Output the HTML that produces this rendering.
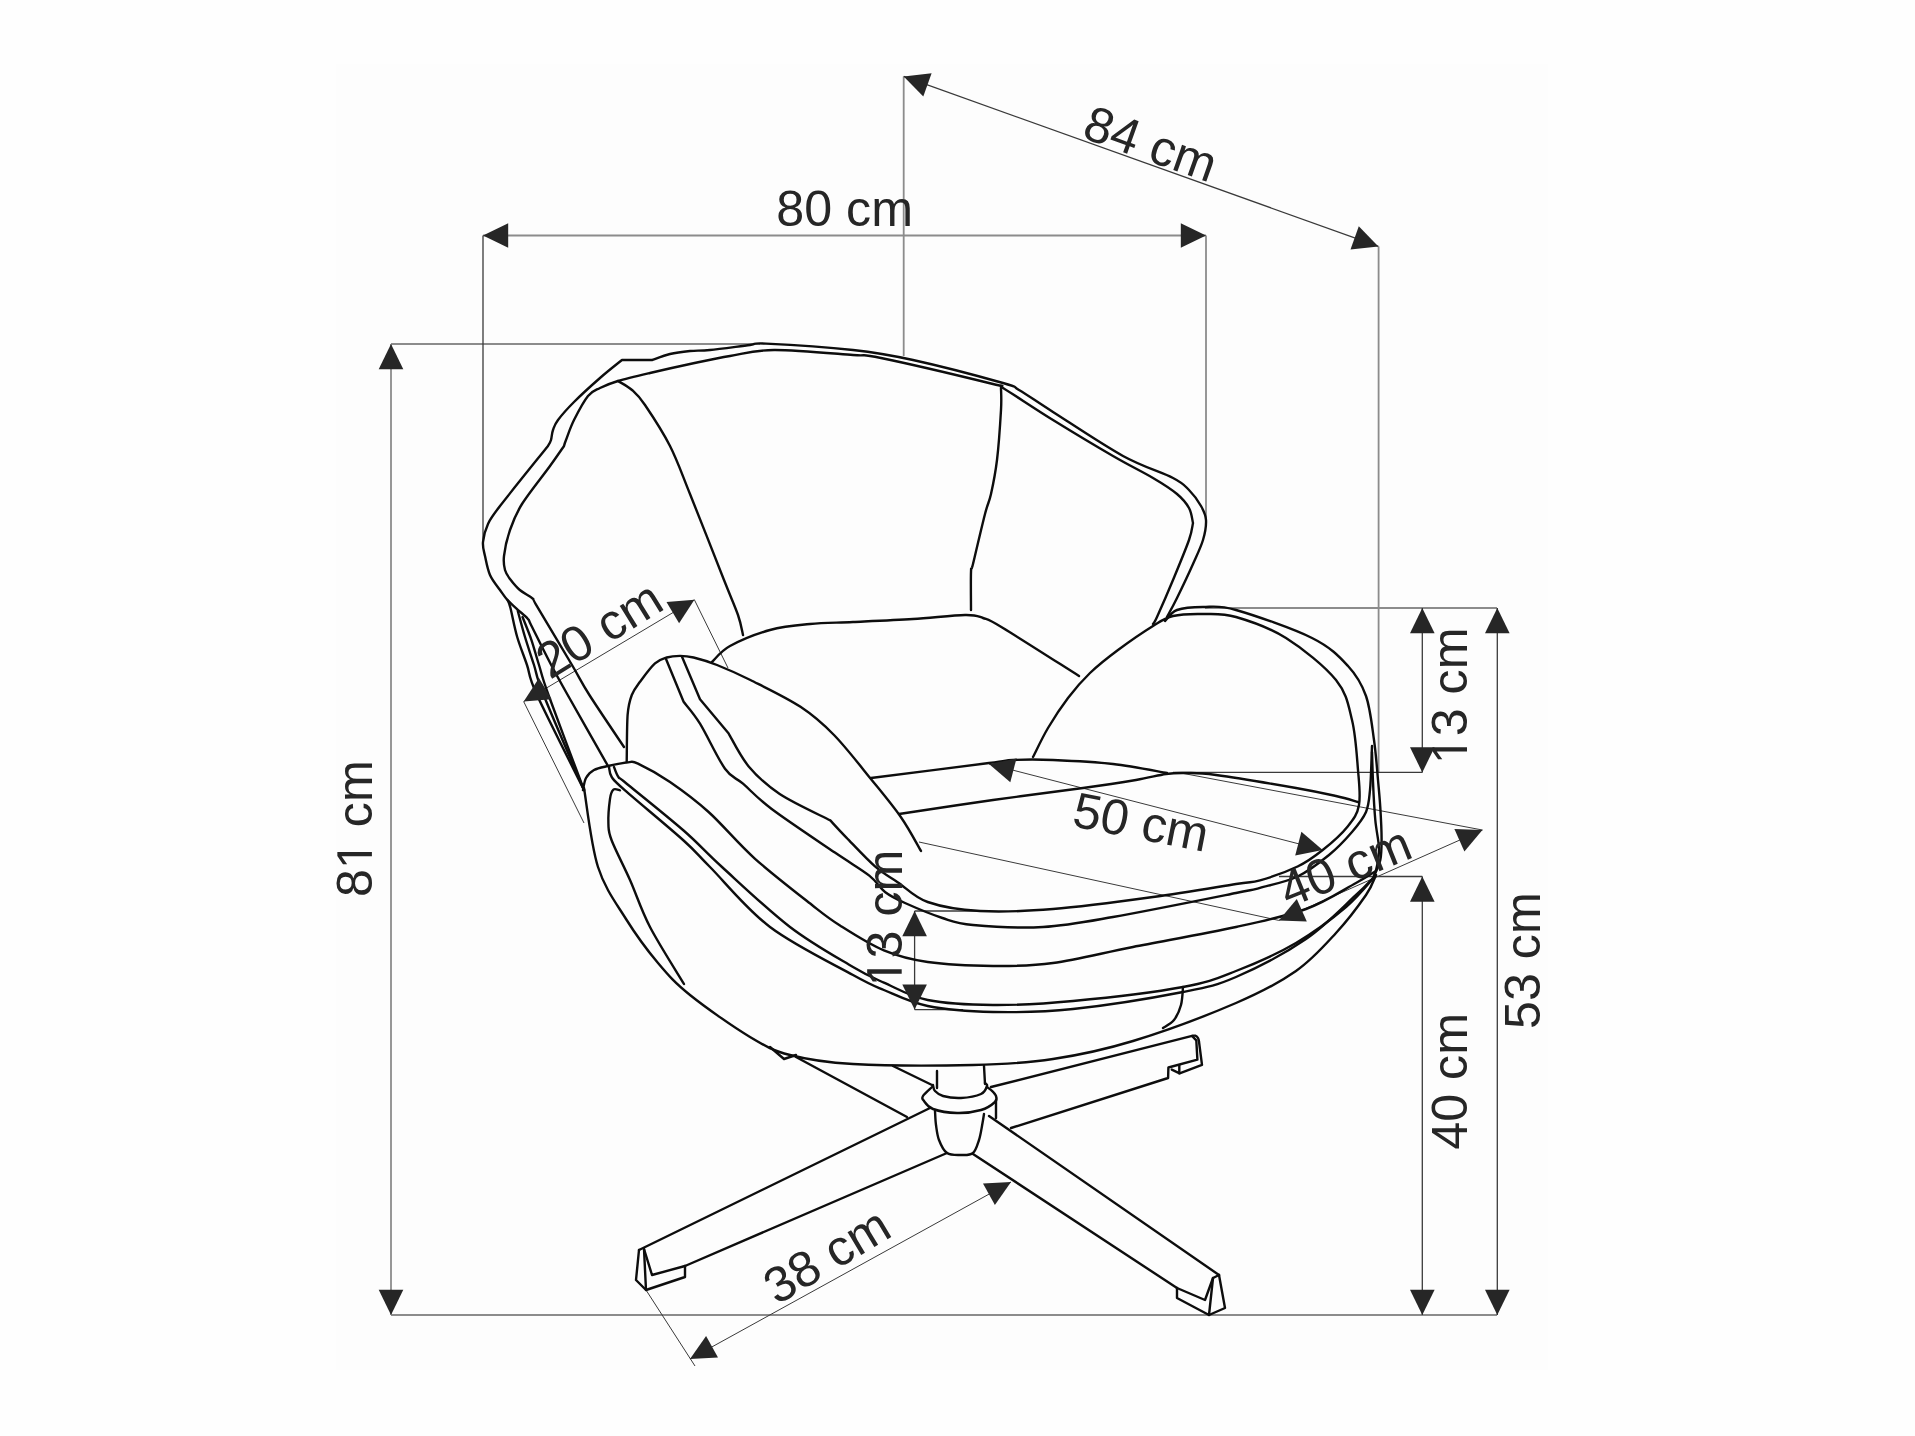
<!DOCTYPE html><html><head><meta charset="utf-8"><style>html,body{margin:0;padding:0;background:#fefefe;}svg{display:block;}</style></head><body>
<svg width="1915" height="1436" viewBox="0 0 1915 1436">
<rect x="0" y="0" width="1915" height="1436" fill="#fefefe"/>
<rect x="336" y="64" width="1212" height="1306" fill="#fdfdfd"/>
<g fill="none" stroke-linecap="butt">
<path d="M391.0 344.0 L760.0 344.0" stroke="#8c8c8c" stroke-width="1.8"/>
<path d="M391.0 344.0 L391.0 1315.0" stroke="#8c8c8c" stroke-width="1.8"/>
<path d="M391.0 1315.0 L1497.0 1315.0" stroke="#8c8c8c" stroke-width="1.8"/>
<path d="M483.0 235.5 L1206.0 235.5" stroke="#8c8c8c" stroke-width="1.8"/>
<path d="M903.7 76.4 L903.7 356.0" stroke="#8c8c8c" stroke-width="1.8"/>
<path d="M1206.0 235.5 L1206.0 518.0" stroke="#8c8c8c" stroke-width="1.8"/>
<path d="M1205.0 608.0 L1497.0 608.0" stroke="#8c8c8c" stroke-width="1.8"/>
<path d="M1378.6 246.4 L1378.6 772.0" stroke="#8c8c8c" stroke-width="1.8"/>
<path d="M483.0 235.5 L483.0 540.0" stroke="#3a3a3a" stroke-width="1.3"/>
<path d="M903.7 76.4 L1378.4 246.4" stroke="#3a3a3a" stroke-width="1.3"/>
<path d="M1422.3 608.0 L1422.3 772.4" stroke="#3a3a3a" stroke-width="1.3"/>
<path d="M1422.3 876.5 L1422.3 1315.0" stroke="#3a3a3a" stroke-width="1.3"/>
<path d="M1497.3 608.0 L1497.3 1315.0" stroke="#3a3a3a" stroke-width="1.3"/>
<path d="M1173.0 772.4 L1422.3 772.4" stroke="#3a3a3a" stroke-width="1.3"/>
<path d="M1279.0 876.5 L1422.3 876.5" stroke="#3a3a3a" stroke-width="1.3"/>
<path d="M914.6 911.0 L914.6 1009.6" stroke="#3a3a3a" stroke-width="1.3"/>
<path d="M914.6 911.0 L980.0 911.0" stroke="#3a3a3a" stroke-width="1.3"/>
<path d="M914.6 1009.6 L963.0 1009.6" stroke="#3a3a3a" stroke-width="1.3"/>
<path d="M989.0 764.0 L1322.7 850.0" stroke="#3a3a3a" stroke-width="1.0"/>
<path d="M1181.0 773.0 L1482.4 830.0" stroke="#3a3a3a" stroke-width="1.0"/>
<path d="M919.0 842.0 L1278.8 920.4" stroke="#3a3a3a" stroke-width="1.0"/>
<path d="M1278.8 920.4 L1482.4 830.0" stroke="#3a3a3a" stroke-width="1.0"/>
<path d="M523.7 701.6 L694.4 599.8" stroke="#3a3a3a" stroke-width="1.0"/>
<path d="M694.4 599.8 L728.0 668.0" stroke="#3a3a3a" stroke-width="1.0"/>
<path d="M523.7 701.6 L584.0 823.0" stroke="#3a3a3a" stroke-width="1.0"/>
<path d="M690.0 1359.0 L1011.0 1182.0" stroke="#3a3a3a" stroke-width="1.0"/>
<path d="M646.0 1290.0 L695.0 1366.0" stroke="#3a3a3a" stroke-width="1.0"/>
</g>
<g fill="none" stroke="#0d0d0d" stroke-width="2.4" stroke-linejoin="round" stroke-linecap="round">
<path d="M608.0 766.0 C601.3 754.2 577.2 711.8 567.7 695.0 C558.2 678.2 557.3 676.6 551.2 665.0 C545.1 653.4 535.2 633.2 531.3 625.5 C527.4 617.8 530.0 621.3 527.7 618.7 C525.5 616.1 521.1 612.8 517.8 609.8 C514.5 606.8 510.8 603.7 507.8 600.4 C504.8 597.1 503.0 594.2 500.0 590.0 C497.0 585.8 492.5 580.7 490.0 575.0 C487.5 569.3 486.2 561.5 485.0 556.0 C483.8 550.5 482.5 547.3 483.0 542.0 C483.5 536.7 485.2 530.0 488.0 524.0 C490.8 518.0 490.0 519.0 500.0 506.0 C510.0 493.0 540.0 456.0 548.0 446.0 C548.5 445.0 550.2 442.7 551.0 440.0 C551.8 437.3 551.8 433.3 553.0 430.0 C554.2 426.7 554.5 424.7 558.0 420.0 C561.5 415.3 567.0 409.0 574.0 402.0 C581.0 395.0 592.0 385.0 600.0 378.0 C608.0 371.0 618.3 363.0 622.0 360.0 L652.0 360.0 C655.0 359.0 663.7 355.5 670.0 354.0 C676.3 352.5 683.3 351.7 690.0 351.0 C696.7 350.3 700.0 351.0 710.0 350.0 C720.0 349.0 740.7 346.1 750.0 345.0 C759.3 343.9 748.8 342.8 766.0 343.6 C783.2 344.4 828.5 347.3 853.0 350.0 C877.5 352.7 888.0 354.5 913.0 360.0 C938.0 365.5 985.3 378.0 1003.0 383.0 C1020.7 388.0 1010.7 385.2 1019.0 390.0 C1027.3 394.8 1035.7 401.0 1053.0 412.0 C1070.3 423.0 1103.0 445.0 1123.0 456.0 C1143.0 467.0 1162.0 472.3 1173.0 478.0 C1184.0 483.7 1184.3 485.3 1189.0 490.0 C1193.7 494.7 1198.2 501.0 1201.0 506.0 C1203.8 511.0 1205.7 514.3 1206.0 520.0 C1206.3 525.7 1205.2 532.7 1203.0 540.0 C1200.8 547.3 1197.3 554.3 1193.0 564.0 C1188.7 573.7 1181.3 589.2 1177.0 598.0 C1172.7 606.8 1168.7 613.8 1167.0 617.0"/>
<path d="M624.0 747.0 C618.2 738.3 598.1 708.7 589.4 695.0 C580.7 681.3 580.8 679.9 572.0 665.0 C563.2 650.1 543.2 616.8 536.6 605.7 C530.0 594.6 535.2 601.0 532.4 598.4 C529.6 595.8 523.5 593.2 519.8 590.0 C516.1 586.8 512.5 582.3 510.0 579.0 C507.5 575.7 506.0 573.8 505.0 570.0 C504.0 566.2 503.2 562.7 504.0 556.0 C504.8 549.3 507.0 538.7 510.0 530.0 C513.0 521.3 515.3 514.7 522.0 504.0 C528.7 493.3 543.0 475.7 550.0 466.0 C557.0 456.3 561.7 449.3 564.0 446.0 C564.3 445.0 564.3 444.3 566.0 440.0 C567.7 435.7 570.3 427.3 574.0 420.0 C577.7 412.7 583.7 401.3 588.0 396.0 C592.3 390.7 595.0 390.5 600.0 388.0 C605.0 385.5 609.7 383.5 618.0 381.0 C626.3 378.5 638.0 375.8 650.0 373.0 C662.0 370.2 676.7 366.8 690.0 364.0 C703.3 361.2 716.0 358.3 730.0 356.0 C744.0 353.7 753.5 350.2 774.0 350.0 C794.5 349.8 835.2 353.7 853.0 355.0 C870.8 356.3 857.7 353.2 881.0 358.0 C904.3 362.8 972.7 379.0 993.0 384.0 C1013.3 389.0 993.0 382.0 1003.0 388.0 C1013.0 394.0 1034.7 408.7 1053.0 420.0 C1071.3 431.3 1096.3 446.3 1113.0 456.0 C1129.7 465.7 1142.3 471.7 1153.0 478.0 C1163.7 484.3 1171.0 489.0 1177.0 494.0 C1183.0 499.0 1186.3 503.2 1189.0 508.0 C1191.7 512.8 1192.3 520.5 1193.0 523.0 C1192.3 525.8 1192.3 530.5 1189.0 540.0 C1185.7 549.5 1178.3 567.2 1173.0 580.0 C1167.7 592.8 1160.3 609.7 1157.0 617.0 C1153.7 624.3 1153.7 622.8 1153.0 624.0"/>
<path d="M507.8 600.4 C508.2 601.6 508.8 601.7 510.4 607.8 C512.0 613.9 514.4 627.5 517.2 637.0 C520.0 646.5 523.7 655.3 527.0 665.0 C530.3 674.7 527.5 674.2 537.0 695.0 C546.5 715.8 576.2 774.2 584.0 790.0"/>
<path d="M517.8 611.0 C519.0 615.3 522.3 628.0 525.0 637.0 C527.7 646.0 530.9 655.3 534.0 665.0 C537.1 674.7 535.3 674.2 543.6 695.0 C551.9 715.8 577.3 774.2 584.0 790.0"/>
<path d="M522.5 617.0 C524.0 620.8 528.5 631.6 531.3 639.6 C534.0 647.6 536.1 655.8 539.0 665.0 C541.9 674.2 541.0 674.2 548.5 695.0 C556.0 715.8 578.1 774.2 584.0 790.0"/>
<path d="M618.0 381.0 C620.3 382.5 627.5 386.0 632.0 390.0 C636.5 394.0 638.7 395.7 645.0 405.0 C651.3 414.3 662.5 431.2 670.0 446.0 C677.5 460.8 681.0 471.7 690.0 494.0 C699.0 516.3 716.0 559.8 724.0 580.0 C732.0 600.2 734.8 605.8 738.0 615.0 C741.2 624.2 742.2 631.7 743.0 635.0"/>
<path d="M1001.0 388.0 C1001.0 391.7 1001.7 398.0 1001.0 410.0 C1000.3 422.0 998.7 446.0 997.0 460.0 C995.3 474.0 993.0 485.0 991.0 494.0 C989.0 503.0 988.0 502.3 985.0 514.0 C982.0 525.7 975.3 554.3 973.0 564.0 C970.7 573.7 971.3 564.3 971.0 572.0 C970.7 579.7 971.0 603.7 971.0 610.0"/>
<path d="M712.0 662.0 C715.0 659.3 720.3 651.3 730.0 646.0 C739.7 640.7 756.7 633.7 770.0 630.0 C783.3 626.3 796.2 625.3 810.0 624.0 C823.8 622.7 835.8 622.8 853.0 622.0 C870.2 621.2 894.3 620.2 913.0 619.0 C931.7 617.8 953.3 615.2 965.0 615.0 C976.7 614.8 976.7 615.8 983.0 618.0 C989.3 620.2 987.0 618.3 1003.0 628.0 C1019.0 637.7 1066.3 668.0 1079.0 676.0"/>
<path d="M626.7 762.0 C626.9 754.2 626.8 726.2 627.6 715.0 C628.5 703.8 629.7 700.5 631.8 695.0 C633.9 689.5 636.1 687.1 640.0 681.8 C643.9 676.5 650.5 667.4 655.0 663.4 C659.5 659.4 662.6 658.8 666.8 657.5 C671.0 656.2 675.5 655.9 680.0 655.9 C684.5 655.9 687.4 656.0 693.6 657.5 C699.8 659.0 707.5 661.2 717.0 665.0 C726.5 668.8 736.5 673.0 750.4 680.0 C764.3 687.0 786.6 697.6 800.5 706.8 C814.4 716.0 822.3 723.0 834.0 735.0 C845.7 747.0 859.6 765.0 870.7 778.7 C881.8 792.4 892.4 805.0 900.8 817.0 C909.2 829.0 917.6 845.3 921.0 851.0"/>
<path d="M666.0 659.0 L683.6 701.8 C686.3 705.4 693.1 712.5 700.0 723.6 C706.9 734.8 717.8 758.7 725.0 768.7 C732.2 778.7 735.2 777.0 743.0 783.7 C750.8 790.4 756.4 797.5 771.7 809.0 C787.0 820.5 818.6 841.5 834.9 852.6 C851.2 863.7 860.9 869.0 869.3 875.6 C877.6 882.2 879.0 887.4 885.0 892.0 C891.0 896.6 895.4 898.7 905.0 903.0 C914.6 907.3 931.1 914.3 942.4 918.0 C953.7 921.7 956.2 923.5 973.0 925.0 C989.8 926.5 1019.7 928.3 1043.0 927.0 C1066.3 925.7 1080.8 922.7 1113.0 917.0 C1145.2 911.3 1211.5 897.9 1236.0 893.0 C1260.5 888.1 1249.7 890.5 1260.0 887.8 C1270.3 885.0 1286.1 882.0 1297.6 876.5 C1309.1 871.0 1319.9 862.4 1329.0 855.0 C1338.1 847.6 1345.8 839.2 1352.0 832.0 C1358.2 824.8 1363.0 819.0 1366.0 812.0 C1369.0 805.0 1369.1 798.7 1370.0 790.0 C1370.9 781.3 1371.2 767.3 1371.5 760.0 C1371.8 752.7 1371.9 748.3 1372.0 746.0"/>
<path d="M682.0 656.7 L700.0 699.3 L728.7 733.6 C732.0 739.1 740.2 756.3 748.7 766.4 C757.2 776.5 766.1 785.0 779.7 794.0 C793.3 803.0 821.9 816.0 830.3 820.4 C833.0 823.3 838.9 829.9 846.4 837.6 C853.9 845.3 866.4 858.9 875.0 866.4 C883.6 873.9 889.2 876.5 898.0 882.4 C906.8 888.3 914.0 897.2 927.7 902.0 C941.4 906.8 959.1 909.8 980.0 911.0 C1000.9 912.2 1024.2 911.3 1053.0 909.0 C1081.8 906.7 1122.5 901.2 1153.0 897.0 C1183.5 892.8 1218.2 886.8 1236.0 884.0 C1253.8 881.2 1249.7 883.2 1260.0 880.3 C1270.3 877.4 1287.1 871.5 1297.6 866.5 C1308.0 861.5 1314.3 856.7 1322.7 850.0 C1331.1 843.3 1341.7 833.9 1347.7 826.4 C1353.8 818.9 1357.3 814.4 1359.0 805.0 C1360.7 795.6 1359.2 784.2 1358.0 770.0 C1356.8 755.8 1355.7 735.0 1352.0 720.0 C1348.3 705.0 1347.0 693.7 1336.0 680.0 C1325.0 666.3 1302.7 648.5 1286.0 638.0 C1269.3 627.5 1249.8 621.0 1236.0 617.0 C1222.2 613.0 1213.5 614.2 1203.0 614.0 C1192.5 613.8 1181.3 614.0 1173.0 616.0 C1164.7 618.0 1162.2 620.3 1153.0 626.0 C1143.8 631.7 1128.5 642.2 1118.0 650.0 C1107.5 657.8 1098.3 665.0 1090.0 673.0 C1081.7 681.0 1075.0 688.8 1068.0 698.0 C1061.0 707.2 1053.8 718.2 1048.0 728.0 C1042.2 737.8 1035.5 752.2 1033.0 757.0"/>
<path d="M1165.0 621.0 C1167.0 619.2 1170.7 612.3 1177.0 610.0 C1183.3 607.7 1193.2 607.0 1203.0 607.0 C1212.8 607.0 1217.8 604.8 1236.0 610.0 C1254.2 615.2 1293.3 628.7 1312.0 638.0 C1330.7 647.3 1339.0 656.3 1348.0 666.0 C1357.0 675.7 1361.7 683.7 1366.0 696.0 C1370.3 708.3 1372.0 726.0 1374.0 740.0 C1376.0 754.0 1377.0 768.7 1378.0 780.0 C1379.0 791.3 1379.7 797.8 1380.3 807.6 C1380.9 817.4 1381.6 830.3 1381.6 839.0 C1381.6 847.7 1381.6 853.8 1380.3 860.0 C1379.0 866.2 1375.0 873.3 1374.0 876.0"/>
<path d="M1372.0 752.0 C1372.2 757.0 1372.5 770.7 1373.0 782.0 C1373.5 793.3 1374.3 809.0 1375.3 820.0 C1376.3 831.0 1378.7 840.3 1379.0 848.0 C1379.3 855.7 1377.8 861.3 1377.0 866.0 C1376.2 870.7 1374.5 874.3 1374.0 876.0"/>
<path d="M871.0 778.0 C890.7 775.5 965.3 766.0 989.0 763.0 C1012.7 760.0 1002.3 760.5 1013.0 760.0 C1023.7 759.5 1036.3 759.3 1053.0 760.0 C1069.7 760.7 1094.0 761.8 1113.0 764.0 C1132.0 766.2 1158.0 771.5 1167.0 773.0"/>
<path d="M899.0 814.0 C914.7 811.7 962.3 804.3 993.0 800.0 C1023.7 795.7 1059.2 791.3 1083.0 788.0 C1106.8 784.7 1122.2 782.3 1136.0 780.0 C1149.8 777.7 1157.7 775.2 1166.0 774.0 C1174.3 772.8 1177.7 772.8 1186.0 773.0 C1194.3 773.2 1197.7 772.5 1216.0 775.0 C1234.3 777.5 1276.0 784.5 1296.0 788.0 C1316.0 791.5 1325.7 793.7 1336.0 796.0 C1346.3 798.3 1354.3 801.0 1358.0 802.0"/>
<path d="M583.0 790.0 C583.5 788.0 584.2 781.3 586.0 778.0 C587.8 774.7 590.3 772.0 594.0 770.0 C597.7 768.0 602.3 767.3 608.0 766.0 C613.7 764.7 623.0 762.8 628.0 762.4 C633.0 762.0 631.0 760.3 638.0 763.6 C645.0 766.9 658.2 773.9 670.0 782.0 C681.8 790.1 694.5 799.3 708.6 812.0 C722.7 824.7 737.3 842.8 754.5 858.3 C771.7 873.8 797.8 893.8 812.0 905.0 C826.2 916.2 828.0 917.9 840.0 925.5 C852.0 933.1 869.3 944.3 883.9 950.4 C898.5 956.5 909.5 959.4 927.7 962.0 C945.9 964.6 972.1 965.8 993.0 966.0 C1013.9 966.2 1029.7 966.2 1053.0 963.0 C1076.3 959.8 1102.5 953.0 1133.0 947.0 C1163.5 941.0 1207.2 933.3 1236.0 927.0 C1264.8 920.7 1286.0 916.3 1306.0 909.0 C1326.0 901.7 1344.3 889.3 1356.0 883.0 C1367.7 876.7 1372.7 873.0 1376.0 871.0"/>
<path d="M614.0 767.0 C614.7 768.7 616.3 774.2 618.4 777.0 C620.5 779.8 615.8 774.8 626.7 783.7 C637.6 792.6 667.7 816.6 683.6 830.5 C699.5 844.4 704.3 850.9 722.0 867.0 C739.7 883.1 768.2 910.3 790.0 927.0 C811.8 943.7 837.4 957.7 853.0 967.0 C868.6 976.3 871.4 977.1 883.9 982.6 C896.4 988.1 909.5 996.3 927.7 1000.0 C945.9 1003.7 968.8 1004.8 993.0 1005.0 C1017.2 1005.2 1041.3 1004.0 1073.0 1001.0 C1104.7 998.0 1155.8 992.0 1183.0 987.0 C1210.2 982.0 1217.2 978.3 1236.0 971.0 C1254.8 963.7 1277.7 953.7 1296.0 943.0 C1314.3 932.3 1332.7 918.3 1346.0 907.0 C1359.3 895.7 1371.0 880.3 1376.0 875.0"/>
<path d="M609.0 767.0 C609.5 768.7 609.0 773.1 611.7 777.0 C614.4 780.9 613.0 779.8 625.0 790.4 C637.0 801.0 669.4 827.7 683.6 840.5 C697.8 853.3 695.6 852.6 710.0 867.0 C724.4 881.4 746.2 909.0 770.0 927.0 C793.8 945.0 834.0 964.5 853.0 975.0 C872.0 985.5 871.4 984.8 883.9 990.0 C896.4 995.2 909.5 1002.3 927.7 1006.0 C945.9 1009.7 968.8 1011.5 993.0 1012.0 C1017.2 1012.5 1041.3 1012.3 1073.0 1009.0 C1104.7 1005.7 1155.8 997.3 1183.0 992.0 C1210.2 986.7 1215.5 985.8 1236.0 977.0 C1256.5 968.2 1286.0 952.7 1306.0 939.0 C1326.0 925.3 1344.7 905.3 1356.0 895.0 C1367.3 884.7 1371.0 880.0 1374.0 877.0"/>
<path d="M620.0 790.4 C618.9 790.3 615.1 788.2 613.4 789.6 C611.7 791.0 610.8 793.1 610.0 798.8 C609.2 804.5 608.1 816.8 608.4 823.8 C608.7 830.8 608.1 831.1 611.7 840.5 C615.3 849.9 623.6 865.6 630.0 880.0 C636.4 894.4 641.0 909.7 650.0 927.0 C659.0 944.3 678.3 974.5 684.0 984.0"/>
<path d="M584.0 788.0 C586.3 801.2 591.0 845.2 598.0 867.0 C605.0 888.8 616.0 903.0 626.0 919.0 C636.0 935.0 647.3 950.3 658.0 963.0 C668.7 975.7 674.7 982.7 690.0 995.0 C705.3 1007.3 733.3 1027.0 750.0 1037.0 C766.7 1047.0 772.8 1050.5 790.0 1055.0 C807.2 1059.5 822.5 1062.3 853.0 1064.0 C883.5 1065.7 939.7 1065.8 973.0 1065.0 C1006.3 1064.2 1026.3 1063.0 1053.0 1059.0 C1079.7 1055.0 1102.5 1050.3 1133.0 1041.0 C1163.5 1031.7 1208.8 1014.7 1236.0 1003.0 C1263.2 991.3 1279.3 982.7 1296.0 971.0 C1312.7 959.3 1324.3 945.7 1336.0 933.0 C1347.7 920.3 1359.3 904.7 1366.0 895.0 C1372.7 885.3 1374.3 878.3 1376.0 875.0"/>
<path d="M1183.0 987.0 C1182.7 990.0 1182.5 999.5 1181.0 1005.0 C1179.5 1010.5 1177.0 1016.2 1174.0 1020.0 C1171.0 1023.8 1164.8 1026.7 1163.0 1028.0"/>
<path d="M1192.1 1035.9 C1192.6 1035.9 1194.3 1035.4 1195.3 1035.7 C1196.3 1036.0 1197.3 1036.9 1197.9 1037.8 C1198.5 1038.7 1198.7 1040.4 1198.9 1040.9"/>
<path d="M933.0 1085.0 C933.3 1086.0 933.3 1089.2 935.0 1091.0 C936.7 1092.8 938.7 1094.8 943.0 1096.0 C947.3 1097.2 954.7 1098.3 961.0 1098.0 C967.3 1097.7 976.7 1096.0 981.0 1094.0 C985.3 1092.0 986.3 1087.8 987.0 1086.0 C987.7 1084.2 985.3 1083.5 985.0 1083.0"/>
<path d="M932.0 1087.0 C930.5 1088.5 924.3 1093.7 923.0 1096.0 C921.7 1098.3 922.3 1098.8 924.0 1101.0 C925.7 1103.2 927.5 1107.0 933.0 1109.0 C938.5 1111.0 949.0 1112.8 957.0 1113.0 C965.0 1113.2 974.7 1111.8 981.0 1110.0 C987.3 1108.2 992.5 1104.3 995.0 1102.0 C997.5 1099.7 996.7 1098.0 996.0 1096.0 C995.3 1094.0 992.5 1091.5 991.0 1090.0 C989.5 1088.5 987.7 1087.5 987.0 1087.0"/>
<path d="M935.0 1111.0 C935.2 1113.3 935.3 1120.2 936.0 1125.0 C936.7 1129.8 937.2 1135.3 939.0 1140.0 C940.8 1144.7 943.3 1150.5 947.0 1153.0 C950.7 1155.5 956.7 1155.0 961.0 1155.0 C965.3 1155.0 970.0 1155.5 973.0 1153.0 C976.0 1150.5 977.5 1144.5 979.0 1140.0 C980.5 1135.5 981.2 1130.3 982.0 1126.0 C982.8 1121.7 983.7 1116.0 984.0 1114.0"/>
<path d="M991.0 1087.0 L1192.1 1035.9"/>
<path d="M1198.9 1040.9 L1202.0 1064.9 L1179.6 1073.3 L1171.8 1069.6"/>
<path d="M1192.7 1036.7 L1196.3 1040.4 L1197.4 1059.7 L1168.4 1067.5 L1168.1 1078.0 L1011.0 1128.0"/>
<path d="M1179.3 1065.4 L1179.3 1073.3"/>
<path d="M893.0 1066.0 L932.0 1085.0"/>
<path d="M796.0 1057.0 L907.0 1117.0"/>
<path d="M770.0 1047.0 L784.0 1059.0 L796.0 1055.0"/>
<path d="M930.0 1108.0 L639.0 1250.0"/>
<path d="M947.0 1153.0 L685.0 1266.0"/>
<path d="M639.0 1250.0 L636.0 1280.0 L646.0 1290.0 L685.0 1277.0 L685.0 1266.0"/>
<path d="M644.0 1249.0 L652.0 1275.0 L685.0 1266.0"/>
<path d="M644.0 1249.0 L646.0 1290.0"/>
<path d="M989.0 1116.0 L1219.0 1275.0"/>
<path d="M973.0 1154.0 L1177.0 1288.0"/>
<path d="M1219.0 1275.0 L1225.0 1308.0 L1209.0 1315.0 L1177.0 1298.0 L1177.0 1288.0"/>
<path d="M1177.0 1288.0 L1205.0 1300.0 L1213.0 1278.0 L1219.0 1275.0"/>
<path d="M1213.0 1278.0 L1209.0 1315.0"/>
<path d="M937.0 1071.0 L937.0 1088.0"/>
<path d="M984.0 1066.0 L985.0 1084.0"/>
<path d="M996.0 1100.0 L996.0 1118.0"/>
</g>
<g fill="#262626">
<path d="M903.7 76.4 L923.3 96.5 L931.6 73.3 Z"/>
<path d="M1378.4 246.4 L1358.8 226.3 L1350.5 249.5 Z"/>
<path d="M483.0 235.5 L508.2 247.8 L508.2 223.2 Z"/>
<path d="M1206.0 235.5 L1180.8 223.2 L1180.8 247.8 Z"/>
<path d="M391.0 344.0 L378.7 369.2 L403.3 369.2 Z"/>
<path d="M391.0 1315.0 L403.3 1289.8 L378.7 1289.8 Z"/>
<path d="M1422.3 608.0 L1410.0 633.2 L1434.6 633.2 Z"/>
<path d="M1422.3 772.4 L1434.6 747.2 L1410.0 747.2 Z"/>
<path d="M1497.3 608.0 L1485.0 633.2 L1509.6 633.2 Z"/>
<path d="M1497.3 1315.0 L1509.6 1289.8 L1485.0 1289.8 Z"/>
<path d="M1422.3 876.5 L1410.0 901.7 L1434.6 901.7 Z"/>
<path d="M1422.3 1315.0 L1434.6 1289.8 L1410.0 1289.8 Z"/>
<path d="M914.6 911.0 L902.3 936.2 L926.9 936.2 Z"/>
<path d="M914.6 1009.6 L926.9 984.4 L902.3 984.4 Z"/>
<path d="M989.0 764.0 L1010.3 782.2 L1016.5 758.4 Z"/>
<path d="M1322.7 850.0 L1301.4 831.8 L1295.2 855.6 Z"/>
<path d="M1278.8 920.4 L1306.8 921.4 L1296.8 898.9 Z"/>
<path d="M1482.4 830.0 L1454.4 829.0 L1464.4 851.5 Z"/>
<path d="M523.7 701.6 L551.6 699.3 L539.0 678.1 Z"/>
<path d="M694.4 599.8 L666.5 602.1 L679.1 623.3 Z"/>
<path d="M690.0 1359.0 L718.0 1357.6 L706.1 1336.1 Z"/>
<path d="M1011.0 1182.0 L983.0 1183.4 L994.9 1204.9 Z"/>
</g>
<g fill="#262626" font-family="Liberation Sans, sans-serif" font-size="50.2">
<text transform="translate(776.3 225.8) rotate(0.0)">80 cm</text>
<text transform="translate(1080.5 137.2) rotate(19.5)">84 cm</text>
<g transform="translate(371.9 896.9) rotate(-90.0)">
<text x="0.00" y="0" xml:space="preserve">8</text>
<path transform="translate(27.92 0) scale(0.02451 -0.02451)" d="M515 0 L515 1237 L197 1010 L197 1180 L530 1409 L696 1409 L696 0 Z"/>
<text x="55.84" y="0" xml:space="preserve"> cm</text>
</g>
<g transform="translate(1467.0 764.2) rotate(-90.0)">
<path transform="translate(0.00 0) scale(0.02451 -0.02451)" d="M515 0 L515 1237 L197 1010 L197 1180 L530 1409 L696 1409 L696 0 Z"/>
<text x="27.92" y="0" xml:space="preserve">3 cm</text>
</g>
<text transform="translate(1540.3 1028.9) rotate(-90.0)">53 cm</text>
<text transform="translate(1467.0 1149.7) rotate(-90.0)">40 cm</text>
<g transform="translate(901.7 986.3) rotate(-90.0)">
<path transform="translate(0.00 0) scale(0.02451 -0.02451)" d="M515 0 L515 1237 L197 1010 L197 1180 L530 1409 L696 1409 L696 0 Z"/>
<text x="27.92" y="0" xml:space="preserve">3 cm</text>
</g>
<text transform="translate(1070.7 825.9) rotate(11.0)">50 cm</text>
<text transform="translate(1288.3 908.1) rotate(-22.0)">40 cm</text>
<text transform="translate(550.0 680.1) rotate(-31.7)">20 cm</text>
<text transform="translate(777.0 1305.5) rotate(-31.0)">38 cm</text>
</g>
</svg></body></html>
